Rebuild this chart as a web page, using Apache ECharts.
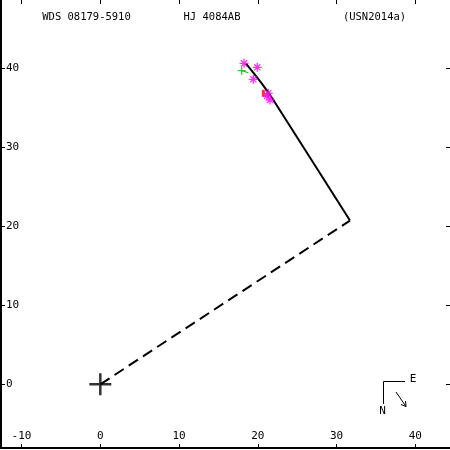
<!DOCTYPE html>
<html><head><meta charset="utf-8">
<script src="https://cdn.jsdelivr.net/npm/echarts@6/dist/echarts.min.js"></script>
<style>html,body{margin:0;padding:0;background:#fff;overflow:hidden}#c{width:450px;height:450px}</style>
</head><body><div id="c"></div>
<script>
// ---- data ----
const xTicks = [-10, 0, 10, 20, 30, 40];
const yTicks = [0, 10, 20, 30, 40];
const orbitX = [18.5, 20.49, 21.97, 31.70];
const orbitY = [40.6, 38.10, 35.99, 20.73];
const nodeX = [0, 31.70];
const nodeY = [0, 20.73];
const magentaX = [18.25, 19.93, 19.43, 21.33, 21.17, 21.55];
const magentaY = [40.63, 40.13, 38.61, 36.84, 36.5, 36.0];
const greenX = [17.95];
const greenY = [39.70];
const greenResX = [17.95, 18.8];
const greenResY = [39.70, 39.45];
const redX = [20.70];
const redY = [36.84];
const originX = [0];
const originY = [0];
const titles = ['WDS 08179-5910', 'HJ 4084AB', '(USN2014a)'];

const zip = (a, b) => a.map((v, i) => [v, b[i]]);
const FONT = 'DejaVu Sans Mono';
const chart = echarts.init(document.getElementById('c'), null, {renderer: 'canvas'});
const lab = v => xTicks.includes(v) || yTicks.includes(v) ? String(v) : '';
const star = 'path://M0,5L10,5M5,0L5,10M1.6,1.6L8.4,8.4M8.4,1.6L1.6,8.4';
const plus = 'path://M0,5L10,5M5,0L5,10';

chart.setOption({
  animation: false,
  backgroundColor: '#fff',
  grid: {left: 1, right: 0, top: 0, bottom: 2},
  xAxis: [{
    type: 'value', position: 'bottom', min: -12.61, max: 44.40,
    axisLine: {show: true, onZero: false, lineStyle: {color: '#000', width: 2}},
    axisTick: {show: true, inside: true, length: 4, customValues: xTicks, lineStyle: {color: '#000'}},
    axisLabel: {show: true, inside: true, margin: 6, customValues: xTicks, formatter: lab,
      color: '#000', fontFamily: FONT, fontSize: 11},
    splitLine: {show: false}
  }, {
    type: 'value', position: 'top', min: -12.61, max: 44.40,
    axisLine: {show: false, onZero: false},
    axisTick: {show: true, inside: true, length: 4, customValues: xTicks, lineStyle: {color: '#000'}},
    axisLabel: {show: false},
    splitLine: {show: false}
  }],
  yAxis: [{
    type: 'value', position: 'left', min: -8.06, max: 48.65,
    axisLine: {show: true, onZero: false, lineStyle: {color: '#000', width: 2}},
    axisTick: {show: true, inside: true, length: 4, customValues: yTicks, lineStyle: {color: '#000'}},
    axisLabel: {show: true, inside: true, margin: 5, customValues: yTicks, formatter: lab,
      color: '#000', fontFamily: FONT, fontSize: 11},
    splitLine: {show: false}
  }, {
    type: 'value', position: 'right', min: -8.06, max: 48.65,
    axisLine: {show: false, onZero: false},
    axisTick: {show: true, inside: true, length: 4, customValues: yTicks, lineStyle: {color: '#000'}},
    axisLabel: {show: false},
    splitLine: {show: false}
  }],
  series: [
    {type: 'line', data: zip(nodeX, nodeY), showSymbol: false, symbol: 'none',
      lineStyle: {color: '#000', width: 2, type: [11, 6]}, z: 2},
    {type: 'line', data: zip(orbitX, orbitY), showSymbol: false, symbol: 'none', smooth: 0.3,
      lineStyle: {color: '#000', width: 2}, z: 3},
    {type: 'line', data: zip(greenResX, greenResY), showSymbol: false, symbol: 'none',
      lineStyle: {color: '#00c000', width: 1}, z: 4},
    {type: 'scatter', data: zip(originX, originY), symbol: 'path://M0,10L20,10M10,0L10,20', symbolSize: 22,
      itemStyle: {color: 'none', borderColor: '#000', borderWidth: 2.5}, z: 5},
    {type: 'scatter', data: zip(redX, redY), symbol: 'rect', symbolSize: [3, 7],
      itemStyle: {color: '#ff0000'}, z: 5},
    {type: 'scatter', data: zip(magentaX, magentaY), symbol: star, symbolSize: 9,
      itemStyle: {color: 'none', borderColor: '#ff00ff', borderWidth: 1.3}, z: 6},
    {type: 'scatter', data: zip(greenX, greenY), symbol: plus, symbolSize: 8,
      itemStyle: {color: 'none', borderColor: '#00c000', borderWidth: 1.3}, z: 6}
  ],
  graphic: [
    {type: 'text', x: 86.5, y: 17, style: {text: titles[0], font: '10.5px ' + FONT, fill: '#000', align: 'center', verticalAlign: 'middle'}},
    {type: 'text', x: 212, y: 17, style: {text: titles[1], font: '10.5px ' + FONT, fill: '#000', align: 'center', verticalAlign: 'middle'}},
    {type: 'text', x: 374.5, y: 17, style: {text: titles[2], font: '10.5px ' + FONT, fill: '#000', align: 'center', verticalAlign: 'middle'}},
    {type: 'polyline', shape: {points: [[405, 381.5], [383.5, 381.5], [383.5, 404]]}, style: {stroke: '#000', lineWidth: 1, fill: null}},
    {type: 'text', x: 413, y: 379, style: {text: 'E', font: '11px ' + FONT, fill: '#000', align: 'center', verticalAlign: 'middle'}},
    {type: 'text', x: 382.5, y: 411, style: {text: 'N', font: '11px ' + FONT, fill: '#000', align: 'center', verticalAlign: 'middle'}},
    {type: 'line', shape: {x1: 396, y1: 392, x2: 406, y2: 406.5}, style: {stroke: '#000', lineWidth: 1}},
    {type: 'polyline', shape: {points: [[401, 404.5], [406, 406.5], [405.5, 401]]}, style: {stroke: '#000', lineWidth: 1, fill: null}}
  ]
});
</script></body></html>
